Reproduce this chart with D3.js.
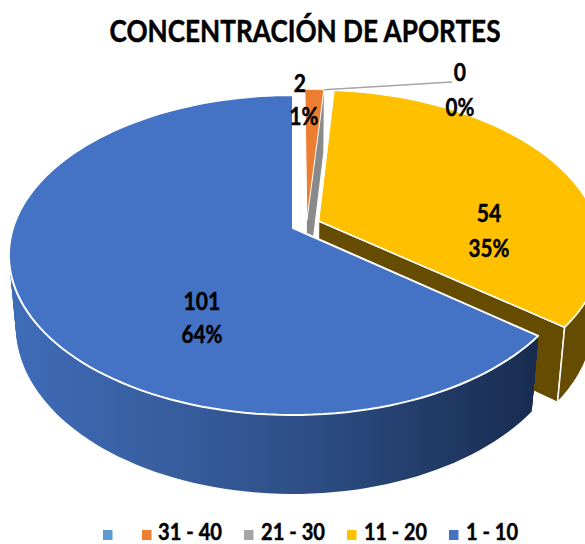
<!DOCTYPE html>
<html><head><meta charset="utf-8">
<script src="https://cdn.jsdelivr.net/npm/d3@7/dist/d3.min.js"></script>
<style>html,body{margin:0;padding:0;background:#fff;overflow:hidden}text{font-family:Lato,"Open Sans",sans-serif;font-weight:700;fill:#000;stroke:#000;stroke-width:.45px}</style>
</head><body><svg id="c" width="585" height="544"></svg>
<script>
const title = "CONCENTRACIÓN DE APORTES";
const categories = ["", "31 - 40", "21 - 30", "11 - 20", "1 - 10"];
const values = [0, 2, 0, 54, 101];
const percents = ["", "1%", "0%", "35%", "64%"];
const colors = ["#5B9BD5", "#ED7D31", "#A5A5A5", "#FFC000", "#4472C4"];
const explodeU = [0, 0.05, 0.05, 0.092, 0];
const explodeV = [0, -0.05, -0.05, -0.045, 0];

const svg = d3.select("#c");
const cx = 293, cy = 228, B = 280, A = 155.4, C = 72, p = 0.169, q = 0.024;
function proj(u, v, h) { const w = 1 - p * v + q * h; return [cx + B * u / w, cy + (A * v + C * h) / w]; }
const slices = d3.pie().sort(null).value(d => d).startAngle(0).endAngle(2 * Math.PI)(values);
const line = d3.line().curve(d3.curveLinear);
function pt(i, r, a, h) { return proj(explodeU[i] + r * Math.sin(a), explodeV[i] - r * Math.cos(a), h); }
function arcPts(i, a0, a1, h) { return d3.range(0, 121).map(k => pt(i, 1, a0 + (a1 - a0) * k / 120, h)); }
function topFace(i) { const s = slices[i]; return [pt(i, 0, 0, 0), ...arcPts(i, s.startAngle, s.endAngle, 0)]; }
function band(i, h) { const s = slices[i]; return [...arcPts(i, s.startAngle, s.endAngle, 0), ...arcPts(i, s.endAngle, s.startAngle, h)]; }
function cut(i, a) { return [pt(i, 0, 0, 0), pt(i, 1, a, 0), pt(i, 1, a, 1), pt(i, 0, 0, 1)]; }
function draw(pts, fill, sw) {
  svg.append("path").attr("d", line(pts) + "Z").attr("fill", fill).attr("stroke", sw ? "#fff" : "none")
    .attr("stroke-width", sw).attr("stroke-linejoin", "round");
}
const grad = svg.append("defs").append("linearGradient").attr("id", "bw")
  .attr("gradientUnits", "userSpaceOnUse").attr("x1", 10).attr("x2", 535).attr("y1", 0).attr("y2", 0);
[[0, "#3F6CB8"], [0.3, "#375E9F"], [0.55, "#2E4F87"], [1, "#182C50"]].forEach(s =>
  grad.append("stop").attr("offset", s[0]).attr("stop-color", s[1]));

const Y = 3, O = 1, G = 2, BL = 4;
const levels = d3.range(1, 25).map(k => k / 24);
draw(cut(Y, slices[Y].endAngle), "#664C00", 1.5);
draw(band(Y, 1), "#664C00", 1.5);
svg.append("path").attr("d", line(cut(G, slices[G].startAngle)) + "Z").attr("fill", "#8A8A8A");
draw(topFace(Y), colors[Y], 1.5);
draw(topFace(O), colors[O], 1);
levels.forEach(h => draw(band(BL, h), "url(#bw)", 0));
draw(topFace(BL), colors[BL], 2);

// leader line
const rim = pt(G, 1, slices[G].startAngle, 0);
svg.append("line").attr("x1", rim[0]).attr("y1", rim[1]).attr("x2", 452).attr("y2", 82)
  .attr("stroke", "#A5A5A5").attr("stroke-width", 1.5);

// labels
function squeeze(sel, k) { sel.attr("textLength", sel.node().getComputedTextLength() * k).attr("lengthAdjust", "spacingAndGlyphs"); }
const labelX = [0, 300, 460, 489, 202], labelX2 = [0, 304, 460, 489, 202], labelY1 = [0, 92, 81, 222, 310], labelY2 = [0, 125, 116, 257, 343];
values.forEach((v, i) => {
  if (i === 0) return;
  squeeze(svg.append("text").attr("x", labelX[i]).attr("y", labelY1[i]).attr("text-anchor", "middle").attr("font-size", 24).text(v), 0.88);
  squeeze(svg.append("text").attr("x", labelX2[i]).attr("y", labelY2[i]).attr("text-anchor", "middle").attr("font-size", 24).text(percents[i]), 0.86);
});
svg.append("text").attr("x", 305).attr("y", 42).attr("text-anchor", "middle").attr("font-size", 30)
  .attr("textLength", 391).attr("lengthAdjust", "spacingAndGlyphs").text(title);

// legend
const swatchX = [103, 142, 244, 347, 449], textX = [0, 158, 261, 364, 466], textW = [0, 64, 64, 63, 52];
categories.forEach((c, i) => {
  svg.append("rect").attr("x", swatchX[i]).attr("y", 530).attr("width", 9.5).attr("height", 10).attr("fill", colors[i]);
  if (c) svg.append("text").attr("x", textX[i]).attr("y", 540).attr("font-size", 22)
    .attr("textLength", textW[i]).attr("lengthAdjust", "spacingAndGlyphs").text(c);
});
</script></body></html>
